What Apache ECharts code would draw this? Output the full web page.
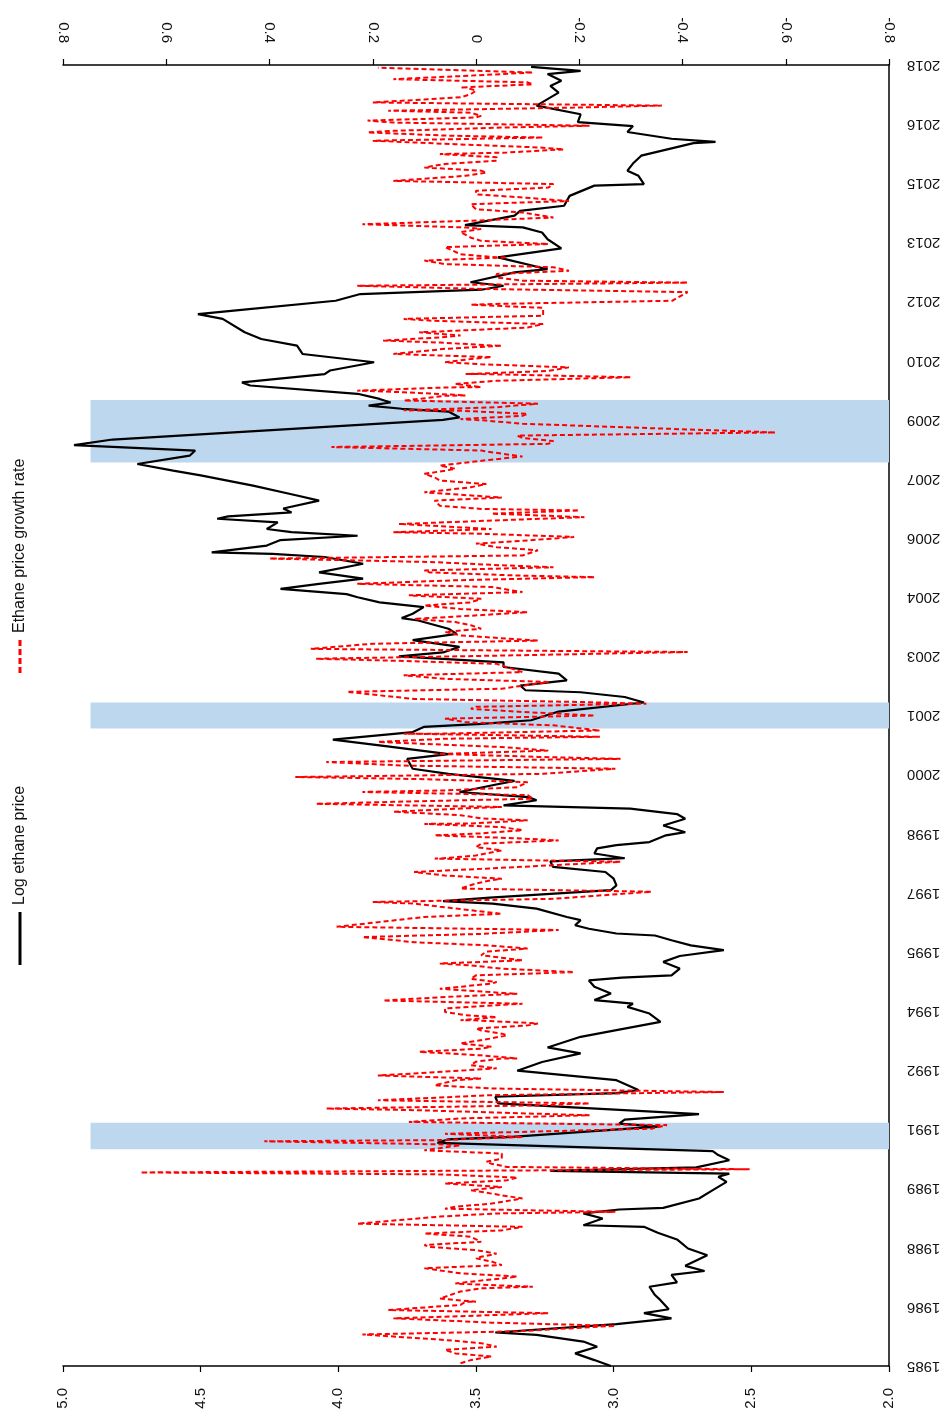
<!DOCTYPE html>
<html>
<head>
<meta charset="utf-8">
<script src="https://cdn.jsdelivr.net/npm/echarts@6/dist/echarts.min.js"></script>
<style>
  html, body { margin: 0; padding: 0; background: #fff; }
  #chart { width: 951px; height: 1421px; }
</style>
</head>
<body>
<div id="chart"></div>
<script>
// Monthly log ethane price (decimal year, log level)
const priceYears = [
  1985.00, 1985.15, 1985.32, 1985.49, 1985.62, 1985.79, 1985.85, 1986.06, 1986.21, 1986.34,
  1986.44, 1986.67, 1986.80, 1987.01, 1987.12, 1987.31, 1987.41, 1987.54, 1987.81, 1987.98,
  1988.21, 1988.38, 1988.53, 1988.57, 1988.74, 1988.87, 1988.97, 1989.01, 1989.25, 1989.46,
  1989.67, 1989.80, 1989.88, 1989.95, 1990.04, 1990.22, 1990.35, 1990.45, 1990.66, 1990.75,
  1990.81, 1991.07, 1991.15, 1991.25, 1991.39, 1991.66, 1991.83, 1991.92, 1992.00, 1992.25,
  1992.49, 1992.71, 1992.93, 1993.08, 1993.35, 1993.52, 1993.73, 1993.94, 1994.11, 1994.19,
  1994.28, 1994.45, 1994.62, 1994.78, 1994.85, 1994.91, 1995.08, 1995.25, 1995.40, 1995.55,
  1995.67, 1995.80, 1995.92, 1995.97, 1996.09, 1996.18, 1996.31, 1996.39, 1996.60, 1996.73,
  1996.79, 1996.88, 1997.07, 1997.19, 1997.36, 1997.53, 1997.66, 1997.80, 1997.88, 1998.00,
  1998.13, 1998.21, 1998.29, 1998.46, 1998.54, 1998.71, 1998.88, 1999.00, 1999.14, 1999.22,
  1999.35, 1999.43, 1999.56, 1999.73, 1999.84, 2000.02, 2000.15, 2000.40, 2000.52, 2000.74,
  2000.89, 2001.08, 2001.21, 2001.29, 2001.38, 2001.60, 2001.83, 2001.97, 2002.09, 2002.14,
  2002.26, 2002.39, 2002.56, 2002.73, 2002.85, 2003.00, 2003.10, 2003.24, 2003.41, 2003.57,
  2003.70, 2003.91, 2003.97, 2004.08, 2004.25, 2004.37, 2004.50, 2004.58, 2004.71, 2004.84,
  2004.97, 2005.13, 2005.35, 2005.52, 2005.60, 2005.64, 2005.81, 2005.95, 2006.06, 2006.15,
  2006.23, 2006.40, 2006.49, 2006.55, 2006.65, 2006.75, 2006.95, 2007.08, 2007.33, 2007.59,
  2007.71, 2007.88, 2008.09, 2008.22, 2008.36, 2008.50, 2009.00, 2009.06, 2009.21, 2009.28,
  2009.36, 2009.44, 2009.53, 2009.66, 2009.87, 2009.95, 2010.16, 2010.25, 2010.46, 2010.67,
  2010.88, 2011.05, 2011.22, 2011.56, 2011.68, 2011.77, 2012.02, 2012.19, 2012.30, 2012.40,
  2012.49, 2012.74, 2012.82, 2013.12, 2013.35, 2013.58, 2013.75, 2013.88, 2013.94, 2014.18,
  2014.30, 2014.43, 2014.68, 2014.94, 2014.98, 2015.19, 2015.32, 2015.50, 2015.70, 2016.02,
  2016.05, 2016.13, 2016.30, 2016.45, 2016.55, 2016.75, 2016.97, 2017.30, 2017.47, 2017.60,
  2017.77, 2017.85, 2017.95
];
const logPrice = [
  3.01, 3.07, 3.14, 3.06, 3.11, 3.28, 3.43, 2.99, 2.79, 2.89,
  2.80, 2.83, 2.85, 2.87, 2.77, 2.79, 2.67, 2.74, 2.66, 2.73,
  2.77, 2.84, 2.89, 3.11, 3.04, 3.11, 2.98, 2.82, 2.69, 2.64,
  2.59, 2.62, 2.58, 3.23, 2.70, 2.58, 2.62, 2.64, 3.64, 3.60,
  3.37, 2.84, 2.98, 2.96, 2.69, 3.42, 3.43, 2.99, 2.91, 2.99,
  3.35, 3.26, 3.12, 3.24, 3.12, 2.99, 2.83, 2.87, 2.95, 2.93,
  3.07, 3.01, 3.07, 3.09, 2.97, 2.79, 2.76, 2.82, 2.76, 2.60,
  2.72, 2.79, 2.85, 2.99, 3.09, 3.14, 3.12, 3.17, 3.28, 3.44,
  3.62, 3.45, 3.01, 2.99, 3.00, 3.03, 3.22, 3.23, 2.96, 3.07,
  3.06, 2.99, 2.87, 2.81, 2.74, 2.82, 2.74, 2.77, 2.94, 3.40,
  3.28, 3.31, 3.56, 3.44, 3.36, 3.60, 3.73, 3.75, 3.60, 3.85,
  4.02, 3.73, 3.69, 3.48, 3.30, 3.20, 2.89, 2.96, 3.12, 3.32,
  3.34, 3.17, 3.20, 3.40, 3.40, 3.78, 3.62, 3.56, 3.73, 3.57,
  3.60, 3.71, 3.77, 3.73, 3.69, 3.85, 3.93, 3.97, 4.21, 4.07,
  3.91, 4.07, 3.91, 4.05, 4.24, 4.46, 4.26, 4.21, 3.93, 4.17,
  4.26, 4.22, 4.44, 4.40, 4.17, 4.20, 4.07, 4.15, 4.31, 4.50,
  4.60, 4.73, 4.54, 4.52, 4.96, 4.82, 3.62, 3.56, 3.60, 3.77,
  3.89, 3.81, 3.85, 3.93, 4.32, 4.35, 4.05, 4.03, 3.87, 4.13,
  4.15, 4.28, 4.34, 4.42, 4.51, 4.38, 4.01, 3.92, 3.48, 3.40,
  3.52, 3.36, 3.24, 3.42, 3.19, 3.24, 3.26, 3.33, 3.54, 3.36,
  3.34, 3.18, 3.16, 3.07, 2.89, 2.91, 2.95, 2.93, 2.90, 2.71,
  2.63, 2.79, 2.95, 2.93, 3.13, 3.12, 3.28, 3.20, 3.23, 3.19,
  3.24, 3.12, 3.30
];

// Growth rate swings: each month-pair of the growth rate, its upper and lower reading
const swingYears = [
  1985.11, 1985.28, 1985.45, 1985.62, 1985.84, 1986.06, 1986.25, 1986.38, 1986.59, 1986.67,
  1986.93, 1987.05, 1987.18, 1987.31, 1987.52, 1987.69, 1987.81, 1987.98, 1988.11, 1988.32,
  1988.40, 1988.57, 1988.83, 1988.95, 1989.08, 1989.29, 1989.50,
  1989.55, 1989.67, 1989.82, 1989.95, 1990.09, 1990.22, 1990.43, 1990.56, 1990.66, 1990.77,
  1990.85, 1990.98, 1991.15, 1991.32, 1991.45, 1991.57, 1991.70, 1991.91, 1992.08, 1992.21,
  1992.33, 1992.46, 1992.59, 1992.76, 1992.84, 1993.01, 1993.14, 1993.35, 1993.47, 1993.60,
  1993.73, 1993.81, 1993.94, 1994.11, 1994.23, 1994.40, 1994.53, 1994.66, 1994.78, 1994.95,
  1995.12, 1995.25,
  1995.38, 1995.55, 1995.71, 1995.92, 1996.10, 1996.43, 1996.69, 1996.81, 1997.07, 1997.28,
  1997.40, 1997.57, 1997.83, 1997.91, 1998.12, 1998.29, 1998.42, 1998.55, 1998.71, 1998.80,
  1998.93, 1999.10, 1999.22, 1999.35, 1999.52, 1999.64, 1999.85, 1999.98, 2000.19, 2000.36,
  2000.49, 2000.57, 2000.74, 2000.87, 2001.00,
  2001.08, 2001.29, 2001.46, 2001.63, 2001.76, 2001.88, 2002.14, 2002.39, 2002.56, 2002.85,
  2002.98, 2003.15, 2003.36, 2003.49, 2003.66, 2003.83, 2003.99, 2004.16, 2004.33, 2004.50,
  2004.59, 2004.80, 2004.97, 2005.09, 2005.22, 2005.35, 2005.52, 2005.73, 2005.90, 2006.07,
  2006.19, 2006.32, 2006.40, 2006.57,
  2006.66, 2006.78, 2006.99, 2007.12, 2007.33, 2007.50, 2007.67, 2007.80, 2008.03, 2008.18,
  2008.35, 2008.50, 2008.64, 2008.94, 2009.06, 2009.19, 2009.28, 2009.45, 2009.57, 2009.66,
  2009.78, 2009.87, 2009.95, 2010.12, 2010.20, 2010.37, 2010.50, 2010.63, 2010.84, 2010.92,
  2011.05, 2011.18, 2011.30, 2011.47, 2011.60, 2011.88, 2011.98, 2012.28,
  2012.44, 2012.57, 2012.74, 2012.91, 2013.08, 2013.16, 2013.42, 2013.58, 2013.80, 2013.92,
  2014.09, 2014.30, 2014.51, 2014.68, 2014.85, 2015.02, 2015.23, 2015.36, 2015.53, 2015.70,
  2015.82, 2015.95, 2016.12, 2016.25, 2016.37, 2016.50, 2016.63, 2016.75, 2016.88, 2017.01,
  2017.22, 2017.39, 2017.47, 2017.60, 2017.77, 2017.89
];
const swingPeak = [
  0.03, 0.04, 0.06, 0.06, 0.22, -0.03, 0.16, 0.17, 0.03, 0.07,
  0.03, 0.04, 0.01, 0.03, 0.10, 0.00, -0.01, 0.09, 0.10, 0.10,
  0.10, 0.23, 0.07, 0.06, 0.04, -0.05, 0.01,
  0.01, 0.06, 0.07, 0.65, -0.03, -0.02, 0.10, 0.10, 0.41, 0.07,
  0.06, 0.06, 0.13, 0.03, 0.12, 0.29, 0.19, -0.03, 0.08, 0.08,
  0.19, 0.12, 0.01, 0.00, -0.01, 0.11, 0.03, -0.03, -0.01, 0.00,
  0.01, 0.03, 0.06, 0.06, 0.18, 0.06, 0.07, 0.03, 0.01, 0.00,
  0.01, 0.07,
  -0.01, -0.02, 0.12, 0.22, 0.27, 0.10, 0.12, 0.20, 0.03, 0.00,
  0.06, 0.12, 0.08, 0.07, 0.00, -0.01, 0.08, -0.01, 0.10, 0.01,
  0.03, 0.16, 0.31, 0.16, 0.22, 0.06, 0.12, 0.35, 0.14, 0.29,
  0.08, 0.06, 0.10, 0.19, 0.14,
  0.07, 0.02, 0.06, 0.01, 0.00, 0.12, 0.25, 0.06, 0.14, 0.16,
  0.31, 0.32, 0.20, 0.03, 0.06, 0.04, 0.12, 0.03, 0.10, 0.12,
  0.13, 0.23, 0.04, 0.09, 0.10, 0.08, 0.40, -0.04, 0.00, -0.01,
  0.16, 0.15, 0.14, -0.05,
  -0.03, 0.07, 0.08, 0.10, 0.01, 0.08, 0.10, 0.07, -0.03, -0.01,
  0.28, -0.09, -0.08, -0.02, 0.03, 0.03, 0.14, 0.14, 0.11, 0.14,
  0.23, 0.04, 0.04, -0.01, 0.02, -0.01, 0.06, 0.16, 0.06, 0.07,
  0.18, 0.11, 0.11, 0.08, 0.14, 0.01, -0.04, -0.01,
  0.23, -0.04, -0.04, 0.06, 0.10, 0.03, 0.06, 0.01, 0.03, 0.22,
  0.01, 0.00, 0.01, 0.00, 0.00, 0.16, 0.02, 0.10, 0.06, 0.07,
  -0.06, 0.04, 0.20, 0.21, 0.16, 0.16, 0.21, 0.01, 0.17, 0.20,
  0.03, 0.02, 0.03, 0.16, 0.01, 0.19
];
const swingTrough = [
  0.01, -0.03, -0.04, -0.01, -0.08, -0.27, -0.03, -0.14, 0.02, 0.00,
  -0.01, -0.11, -0.05, -0.08, -0.05, -0.03, -0.04, 0.00, -0.01, 0.01,
  -0.05, -0.09, -0.04, -0.27, -0.03, -0.09, -0.05,
  -0.05, -0.06, -0.08, -0.53, -0.06, -0.05, -0.05, 0.03, 0.06, -0.09,
  -0.09, -0.34, -0.37, -0.22, -0.22, -0.12, -0.22, -0.48, -0.03, 0.04,
  -0.01, 0.02, -0.04, -0.05, -0.08, -0.01, -0.03, -0.06, -0.05, -0.10,
  -0.12, -0.04, 0.02, -0.04, -0.09, -0.08, -0.02, -0.03, -0.04, -0.19,
  -0.05, -0.09,
  -0.09, -0.10, -0.02, -0.01, -0.16, -0.05, 0.07, -0.15, -0.34, -0.03,
  -0.05, -0.01, -0.28, 0.00, -0.05, -0.16, -0.09, -0.09, -0.05, -0.10,
  -0.01, 0.03, -0.05, -0.11, -0.10, -0.08, -0.10, -0.13, -0.27, -0.28,
  -0.12, -0.14, -0.05, 0.06, -0.24,
  -0.24, -0.15, -0.23, -0.09, -0.33, -0.21, -0.05, -0.14, -0.09, -0.04,
  -0.05, -0.41, -0.12, -0.12, -0.01, 0.01, 0.01, -0.10, 0.01, -0.01,
  -0.09, -0.03, -0.23, -0.08, -0.15, -0.05, -0.09, -0.12, -0.10, -0.19,
  -0.03, -0.03, -0.02, -0.21,
  -0.20, -0.01, -0.05, -0.05, -0.02, 0.07, 0.06, 0.04, -0.09, -0.05,
  -0.14, -0.15, -0.58, -0.09, -0.09, -0.10, -0.04, -0.12, 0.06, 0.02,
  0.06, -0.01, -0.04, -0.30, -0.14, -0.18, 0.01, -0.03, -0.05, -0.04,
  0.07, 0.03, -0.10, -0.13, -0.13, -0.13, -0.38, -0.41,
  -0.41, -0.09, -0.18, -0.15, -0.06, -0.04, -0.14, -0.01, -0.01, 0.02,
  -0.15, -0.09, -0.18, -0.09, -0.14, -0.15, -0.02, -0.01, -0.04, -0.04,
  -0.17, -0.12, -0.13, 0.06, -0.04, -0.22, 0.00, -0.01, -0.19, -0.36,
  0.01, 0.00, -0.11, -0.10, -0.11, -0.11
];

// NBER recessions (decimal years)
const recessionStart = [1990.50, 2001.17, 2007.92];
const recessionEnd = [1991.17, 2001.83, 2009.50];
const recessionBarTop = 4.9;

const priceData = priceYears.map((t, i) => [logPrice[i], t]);

// Alternate the order inside each swing so the dashed trace zig-zags
const rateData = [];
swingYears.forEach((t, k) => {
  const first = k % 2 === 0 ? swingPeak[k] : swingTrough[k];
  const second = k % 2 === 0 ? swingTrough[k] : swingPeak[k];
  rateData.push([first, t - 0.04], [second, t + 0.04]);
});

const recessionAreas = recessionStart.map((s, i) => [
  { coord: [recessionBarTop, s] },
  { coord: [2, recessionEnd[i]] }
]);

const FONT = 'Liberation Sans';
const TEXT = '#111';

const chart = echarts.init(document.getElementById('chart'), null, { renderer: 'canvas' });

chart.setOption({
  animation: false,
  backgroundColor: '#ffffff',
  grid: { left: 63, right: 62, top: 65, bottom: 55, outerBoundsMode: 'none' },
  xAxis: [
    {
      type: 'value', position: 'bottom', inverse: true,
      min: 2, max: 5, interval: 0.5,
      axisLine: { show: true, onZero: false, lineStyle: { color: '#000', width: 1.5 } },
      axisTick: { show: true, length: 6, lineStyle: { color: '#000', width: 1.2 } },
      splitLine: { show: false },
      axisLabel: {
        rotate: 90, margin: 22, fontFamily: FONT, fontSize: 15, color: TEXT,
        formatter: v => v.toFixed(1)
      }
    },
    {
      type: 'value', position: 'top', inverse: true,
      min: -0.8, max: 0.8, interval: 0.2,
      axisLine: { show: true, onZero: false, lineStyle: { color: '#000', width: 1.5 } },
      axisTick: { show: true, length: 6, lineStyle: { color: '#000', width: 1.2 } },
      splitLine: { show: false },
      axisLabel: {
        rotate: 90, margin: 22, fontFamily: FONT, fontSize: 15, color: TEXT,
        formatter: v => {
          const r = Math.round(v * 10) / 10;
          return r === 0 ? '0' : String(r);
        }
      }
    }
  ],
  yAxis: [
    {
      type: 'value', position: 'right',
      min: 1985, max: 2018, interval: 1.5,
      axisLine: { show: true, onZero: false, lineStyle: { color: '#000', width: 1.5 } },
      axisTick: { show: false },
      splitLine: { show: false },
      axisLabel: {
        rotate: 180, margin: 18, fontFamily: FONT, fontSize: 15, color: TEXT,
        formatter: v => String(Math.floor(v + 1e-6))
      }
    }
  ],
  series: [
    {
      name: 'Recessions', type: 'line', xAxisIndex: 0, yAxisIndex: 0,
      data: [], silent: true, z: 1,
      markArea: {
        silent: true,
        itemStyle: { color: '#BDD7EE', opacity: 1 },
        data: recessionAreas
      }
    },
    {
      name: 'Log ethane price', type: 'line', xAxisIndex: 0, yAxisIndex: 0,
      data: priceData, symbol: 'none', z: 3,
      lineStyle: { color: '#000', width: 2.2 }
    },
    {
      name: 'Ethane price growth rate', type: 'line', xAxisIndex: 1, yAxisIndex: 0,
      data: rateData, symbol: 'none', z: 4,
      lineStyle: { color: '#FF0000', width: 2, type: [5, 3] }
    }
  ],
  graphic: [
    { type: 'line', shape: { x1: 20, y1: 912, x2: 20, y2: 965 }, style: { stroke: '#000', lineWidth: 3 } },
    { type: 'text', x: 20, y: 905, rotation: Math.PI / 2,
      style: { text: 'Log ethane price', fontFamily: FONT, fontSize: 16, fill: TEXT, align: 'left', verticalAlign: 'middle' } },
    { type: 'line', shape: { x1: 20, y1: 640, x2: 20, y2: 676 }, style: { stroke: '#FF0000', lineWidth: 3, lineDash: [6, 3] } },
    { type: 'text', x: 20, y: 633, rotation: Math.PI / 2,
      style: { text: 'Ethane price growth rate', fontFamily: FONT, fontSize: 16, fill: TEXT, align: 'left', verticalAlign: 'middle' } }
  ]
});
</script>
</body>
</html>
